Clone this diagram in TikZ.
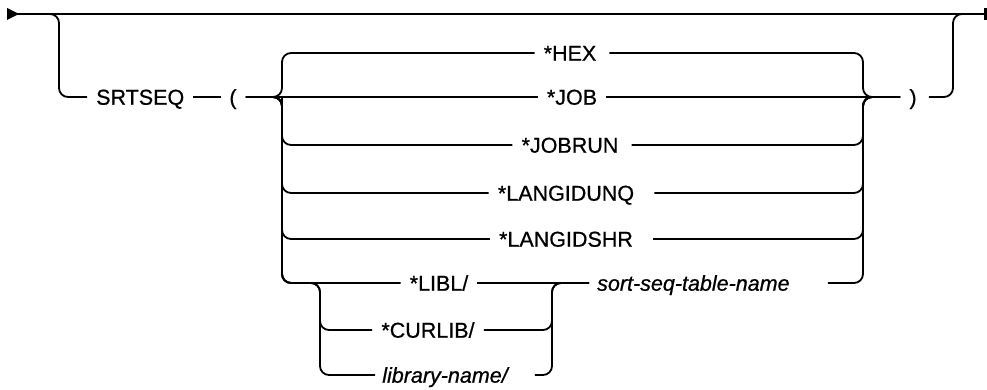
\documentclass[tikz,border=0pt]{standalone}
\usepackage{fontspec}
\setmainfont{Liberation Sans}[FakeBold=0.7]
\begin{document}
\begin{tikzpicture}[x=1pt,y=-1pt,
  ln/.style={line width=1.8pt, rounded corners=9pt},
  kw/.style={inner sep=0pt, text height=15.4pt, text depth=0pt, font=\fontsize{21.5}{25}\selectfont},
  var/.style={kw, font=\fontsize{21.5}{25}\selectfont\itshape}]
\useasboundingbox (0,0) rectangle (987,390);
% coordinates
\coordinate (start) at (7,14);
\coordinate (endp) at (985,14);
\coordinate (b1) at (45,14);
\coordinate (oL) at (59,97);
\coordinate (oR) at (953,14);
\coordinate (re) at (968,14);
\coordinate (jL) at (282,97);
\coordinate (jR) at (863,97);
\coordinate (iL) at (320,283);
\coordinate (iR) at (552,283);
% nodes
\node[kw, anchor=west] (srt) at (96,97) {SRTSEQ};
\node[kw] (lp) at (233,97) {(};
\node[kw] (rp) at (913,97) {)};
\node[kw] (hex) at (570,53) {*HEX};
\node[kw] (job) at (572,97) {*JOB};
\node[kw] (jobrun) at (570,145) {*JOBRUN};
\node[kw] (lunq) at (566,193) {*LANGIDUNQ};
\node[kw] (lshr) at (566,239) {*LANGIDSHR};
\node[kw] (libl) at (439,283) {*LIBL/};
\node[kw] (curlib) at (428,330) {*CURLIB/};
\node[var] (libname) at (445,375) {library-name/};
\node[var, anchor=west] (sst) at (597,283) {sort-seq-table-name};
% main line
\draw[line width=1.8pt] (start) -- (endp);
\fill (start) ++(0,-6) -- ++(12,6) -- ++(-12,6) -- cycle;
\draw[line width=3pt] ([yshift=-6pt]endp) -- ([yshift=6pt]endp);
% optional branch
\draw[ln] (b1) -| (oL) -- ([xshift=-9pt]srt.west);
\draw[ln] ([xshift=9pt]srt.east) -- ([xshift=-8pt]lp.west);
\draw[ln] ([xshift=12pt]rp.east) -| (oR) -- (re);
% choice block, left side
\draw[ln] ([xshift=9pt]lp.east) -- (jL) |- ([xshift=-9pt]hex.west);
\draw[ln] ([xshift=9pt]lp.east) -- ([xshift=-9pt]job.west);
\draw[ln] ([xshift=9pt]lp.east) -- (jL) |- ([xshift=-9pt]jobrun.west);
\draw[ln] ([xshift=9pt]lp.east) -- (jL) |- ([xshift=-9pt]lunq.west);
\draw[ln] ([xshift=9pt]lp.east) -- (jL) |- ([xshift=-9pt]lshr.west);
\draw[ln] ([xshift=9pt]lp.east) -- (jL) |- ([xshift=-9pt]libl.west);
\draw[ln] (jL) |- (iL) |- ([xshift=-9pt]curlib.west);
\draw[ln] (jL) |- (iL) |- ([xshift=-7pt]libname.west);
% choice block, right side
\draw[ln] ([xshift=13pt]hex.east) -| (jR) -- ([xshift=-9pt]rp.west);
\draw[ln] ([xshift=9pt]job.east) -- ([xshift=-9pt]rp.west);
\draw[ln] ([xshift=13pt]jobrun.east) -| (jR) -- ([xshift=-9pt]rp.west);
\draw[ln] ([xshift=20pt]lunq.east) -| (jR) -- ([xshift=-9pt]rp.west);
\draw[ln] ([xshift=20pt]lshr.east) -| (jR) -- ([xshift=-9pt]rp.west);
% library sub-block
\draw[ln] ([xshift=9pt]libl.east) -- ([xshift=-8pt]sst.west);
\draw[ln] ([xshift=9pt]curlib.east) -| (iR) -- ([xshift=-8pt]sst.west);
\draw[ln] ([xshift=27pt]libname.east) -| (iR) -- ([xshift=-8pt]sst.west);
\draw[ln] ([xshift=38pt]sst.east) -| (jR) -- ([xshift=-9pt]rp.west);
\end{tikzpicture}
\end{document}
